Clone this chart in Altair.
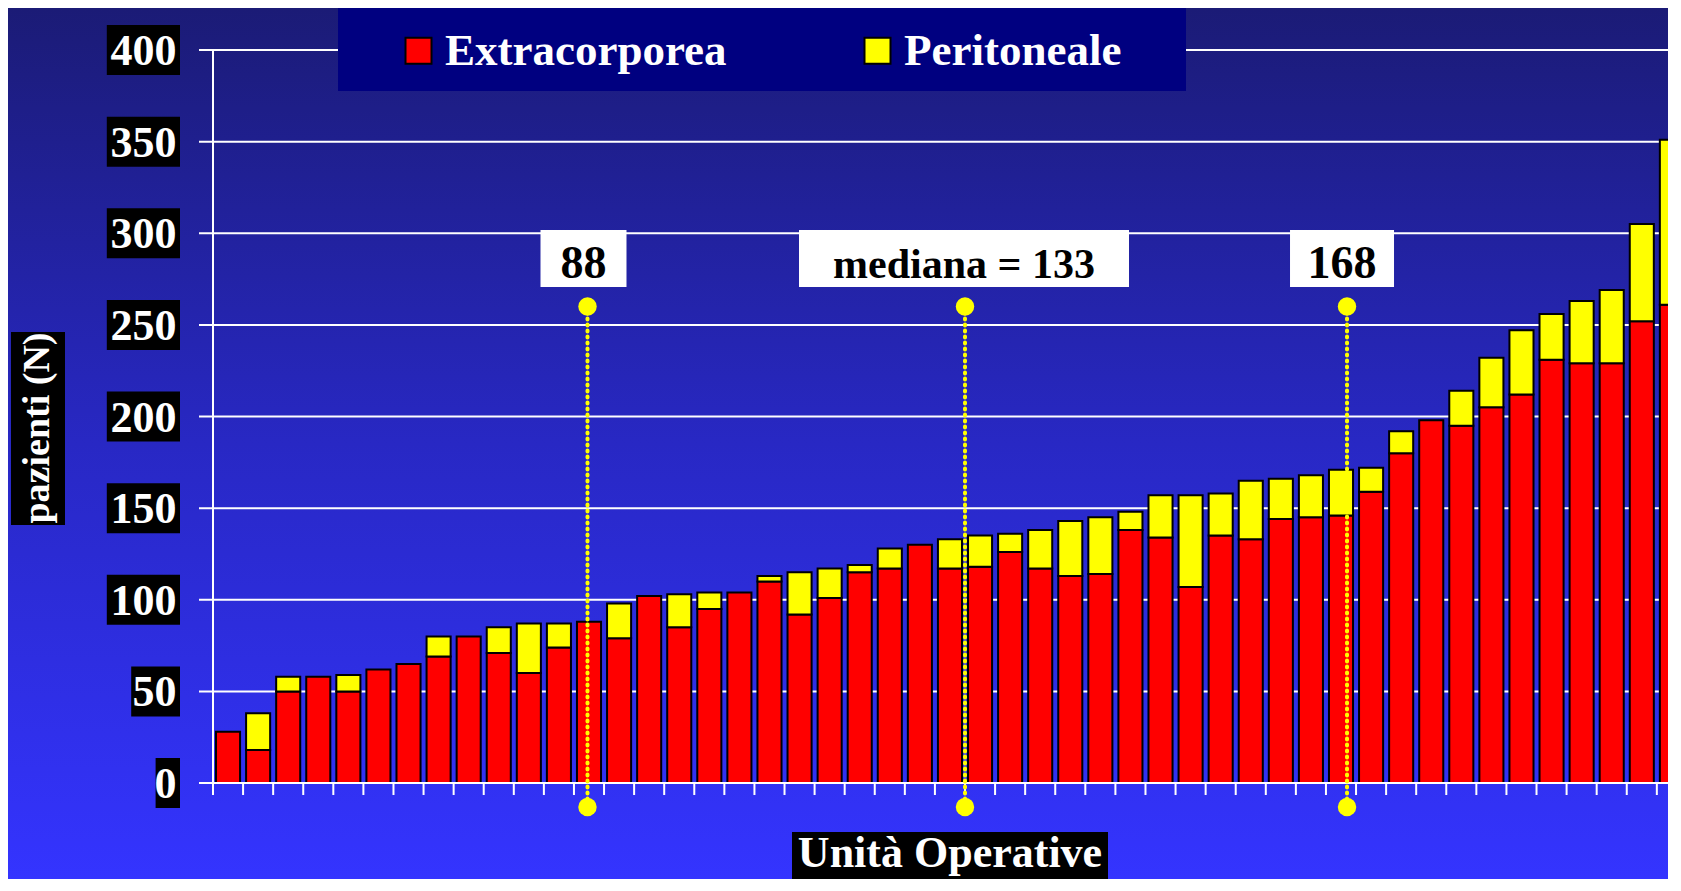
import altair as alt
import pandas as pd

# ---------------- data ----------------
units = list(range(1, 50))
extracorporea = [28, 18, 50, 58, 50, 62, 65, 69, 80, 71, 60, 74, 88, 79, 102, 85, 95, 104,
                 110, 92, 101, 115, 117, 130, 117, 118, 126, 117, 113, 114, 138, 134, 107,
                 135, 133, 144, 145, 146, 159, 180, 198, 195, 205, 212, 231, 229, 229, 252, 261]
peritoneale = [0, 20, 8, 0, 9, 0, 0, 11, 0, 14, 27, 13, 0, 19, 0, 18, 9, 0,
               3, 23, 16, 4, 11, 0, 16, 17, 10, 21, 30, 31, 10, 23, 50,
               23, 32, 22, 23, 25, 13, 12, 0, 19, 27, 35, 25, 34, 40, 53, 90]
series_names = ["Extracorporea", "Peritoneale"]
series_colors = ["#ff0000", "#ffff00"]
y_ticks = [0, 50, 100, 150, 200, 250, 300, 350, 400]
marker_labels = ["88", "mediana = 133", "168"]
marker_units = [12.45, 25.0, 37.7]      # where the marker sits along the units axis
marker_top = [260, 260, 260]
y_title = "pazienti (N)"
x_title = "Unità Operative"

# ---------------- geometry / style ----------------
FONT = "Liberation Serif"
W, H = 1455, 733
SLOT = 30.08
XMAX = W / SLOT
PAD = {"left": 205, "top": 42, "right": 0, "bottom": 96}
x_scale = alt.Scale(domain=[0, XMAX], nice=False, zero=False)
y_scale = alt.Scale(domain=[0, 400], nice=False, zero=True)

rows = []
for u, e, p in zip(units, extracorporea, peritoneale):
    x0, x1 = u - 1 + 0.1, u - 0.1
    rows.append(dict(serie=series_names[0], x0=x0, x1=x1, lo=0, hi=e))
    if p > 0:
        rows.append(dict(serie=series_names[1], x0=x0, x1=x1, lo=e, hi=e + p))
bars_df = pd.DataFrame(rows)
one = pd.DataFrame({"k": [0]})
ticks_df = pd.DataFrame({"v": y_ticks, "lab": [str(v) for v in y_ticks]})
marks_df = pd.DataFrame({"pos": marker_units, "top": marker_top, "label": marker_labels})

gradient = {
    "gradient": "linear", "x1": 0, "y1": 0, "x2": 0, "y2": 1,
    "stops": [
        {"offset": 0, "color": "#1b1b76"},
        {"offset": 0.5, "color": "#2828c4"},
        {"offset": 1, "color": "#3434ff"},
    ],
}

layers = []
# background
layers.append(alt.Chart(one).mark_rect(fill=gradient).encode(
    x=alt.value(-PAD["left"]), x2=alt.value(W),
    y=alt.value(-PAD["top"]), y2=alt.value(H + PAD["bottom"])))
# gridlines (with left tick stubs)
layers.append(alt.Chart(ticks_df).mark_rule(color="white", strokeWidth=2).encode(
    y=alt.Y("v:Q", scale=y_scale, axis=None),
    x=alt.value(-14), x2=alt.value(W)))
# y axis line
layers.append(alt.Chart(one).mark_rule(color="white", strokeWidth=2).encode(
    x=alt.value(0), y=alt.value(0), y2=alt.value(H)))
# x ticks at unit boundaries
layers.append(alt.Chart(pd.DataFrame({"b": list(range(0, 49))})).mark_rule(
    color="white", strokeWidth=2).encode(
    x=alt.X("b:Q", scale=x_scale, axis=None),
    y=alt.value(H), y2=alt.value(H + 12)))
# legend box
layers.append(alt.Chart(one).mark_rect(fill="#000080").encode(
    x=alt.value(125), x2=alt.value(973), y=alt.value(-42), y2=alt.value(41)))
# bars
layers.append(alt.Chart(bars_df).mark_rect(stroke="black", strokeWidth=2, clip=True).encode(
    x=alt.X("x0:Q", scale=x_scale, axis=None), x2="x1:Q",
    y=alt.Y("lo:Q", scale=y_scale, axis=None), y2="hi:Q",
    color=alt.Color("serie:N",
                    scale=alt.Scale(domain=series_names, range=series_colors),
                    legend=alt.Legend(
                        orient="none", legendX=183, legendY=-22, direction="horizontal",
                        title=None, symbolType="square", symbolSize=676,
                        symbolStrokeColor="black", symbolStrokeWidth=2, symbolOpacity=1,
                        labelFont=FONT, labelFontWeight="bold", labelFontSize=45,
                        labelColor="white", labelOffset=4, columnPadding=128,
                        padding=0, labelLimit=600))))
# baseline on top
layers.append(alt.Chart(one).mark_rule(color="white", strokeWidth=2).encode(
    x=alt.value(-14), x2=alt.value(W), y=alt.value(H)))

# y tick label boxes (black) and labels
for n in (1, 2, 3):
    sub = ticks_df[ticks_df["lab"].str.len() == n]
    layers.append(alt.Chart(sub).mark_rect(fill="black", yOffset=-25, y2Offset=25).encode(
        y=alt.Y("v:Q", scale=y_scale, axis=None), y2="v:Q",
        x=alt.value(-33 - 24.4 * n), x2=alt.value(-33)))
layers.append(alt.Chart(ticks_df).mark_text(
    font=FONT, fontWeight="bold", fontSize=44, color="white",
    align="right", baseline="alphabetic", dy=15).encode(
    y=alt.Y("v:Q", scale=y_scale, axis=None), x=alt.value(-36.5), text="lab:N"))

# axis titles
layers.append(alt.Chart(one).mark_rect(fill="black").encode(
    x=alt.value(-202), x2=alt.value(-148), y=alt.value(282), y2=alt.value(475)))
layers.append(alt.Chart(one).mark_text(
    text=y_title, font=FONT, fontWeight="bold", fontSize=38, color="white",
    angle=270, align="center", baseline="middle").encode(
    x=alt.value(-175), y=alt.value(378)))
layers.append(alt.Chart(one).mark_rect(fill="black").encode(
    x=alt.value(579), x2=alt.value(895), y=alt.value(H + 49), y2=alt.value(H + 120)))
layers.append(alt.Chart(one).mark_text(
    text=x_title, font=FONT, fontWeight="bold", fontSize=44, color="white",
    align="center", baseline="alphabetic").encode(
    x=alt.value(737), y=alt.value(H + 84)))

# quartile markers
layers.append(alt.Chart(marks_df).mark_rule(
    color="#ffff00", strokeWidth=4, strokeDash=[1, 5], strokeCap="round").encode(
    x=alt.X("pos:Q", scale=x_scale, axis=None),
    y=alt.Y("top:Q", scale=y_scale, axis=None), y2=alt.value(H + 24)))
layers.append(alt.Chart(marks_df).mark_circle(size=340, color="#ffff00", opacity=1).encode(
    x=alt.X("pos:Q", scale=x_scale, axis=None),
    y=alt.Y("top:Q", scale=y_scale, axis=None)))
layers.append(alt.Chart(marks_df).mark_circle(size=340, color="#ffff00", opacity=1).encode(
    x=alt.X("pos:Q", scale=x_scale, axis=None), y=alt.value(H + 24)))

label_style = {"88": (43, 46, -4), "mediana = 133": (165, 42, -1), "168": (52, 46, -5)}
for lab, pos in zip(marker_labels, marker_units):
    hw, fs, off = label_style[lab]
    row = marks_df[marks_df["label"] == lab]
    layers.append(alt.Chart(row).mark_rect(
        fill="white", xOffset=off - hw, x2Offset=off + hw).encode(
        x=alt.X("pos:Q", scale=x_scale, axis=None), x2="pos:Q",
        y=alt.value(180), y2=alt.value(237)))
    layers.append(alt.Chart(row).mark_text(
        font=FONT, fontWeight="bold", fontSize=fs, color="black",
        align="center", baseline="alphabetic", dx=off).encode(
        x=alt.X("pos:Q", scale=x_scale, axis=None), y=alt.value(228), text="label:N"))

chart = alt.layer(*layers).properties(
    width=W, height=H, padding=PAD,
    autosize=alt.AutoSizeParams(type="none"),
    background="#1b1b76",
).configure_view(strokeWidth=0)

chart.save("out.html", embed_options={"renderer": "svg", "actions": False})
